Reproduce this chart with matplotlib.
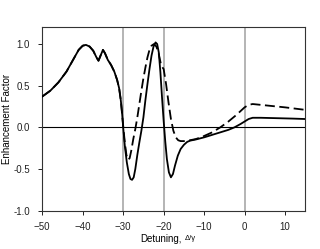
#!/usr/bin/env python
import matplotlib as mpl
mpl.use('agg')
import matplotlib.pyplot as plt

# Solid curve
SOLID_X = [-50, -48, -46, -44, -42.5, -41, -40, -39.2, -38.3, -37.4, -36.6, -36.1,
           -35.6, -35.0, -34.5, -33.8, -33.0, -32.2, -31.5, -31.0, -30.6, -30.3,
           -30.0, -29.6, -29.1, -28.6, -28.2, -27.8, -27.4, -27.0, -26.5, -26.0,
           -25.5, -25.0, -24.5, -24.0, -23.5, -23.0, -22.5, -22.0, -21.6, -21.2,
           -20.8, -20.4, -20.0, -19.6, -19.2, -18.7, -18.2, -17.7, -17.2, -16.5,
           -15.8, -15.0, -14.2, -13.5, -12, -10, -8, -6, -4, -2.5, -1, 0, 1, 2,
           4, 8, 12, 15]
SOLID_Y = [0.37, 0.44, 0.54, 0.67, 0.80, 0.93, 0.98, 0.99, 0.97, 0.92, 0.84, 0.80,
           0.86, 0.93, 0.89, 0.81, 0.75, 0.67, 0.57, 0.47, 0.33, 0.19,
           0.0, -0.22, -0.42, -0.56, -0.62, -0.63, -0.60, -0.50, -0.33, -0.18,
           -0.04, 0.12, 0.33, 0.52, 0.70, 0.86, 0.97, 1.02, 1.00, 0.90,
           0.66, 0.36, 0.08, -0.17, -0.38, -0.54, -0.60, -0.56, -0.46, -0.34,
           -0.26, -0.21, -0.175, -0.16, -0.145, -0.12, -0.09, -0.06, -0.03, 0.0,
           0.04, 0.07, 0.10, 0.115, 0.115, 0.11, 0.105, 0.10]

# Dashed curve (same as solid left of -30.6)
DASH_X = [-50, -48, -46, -44, -42.5, -41, -40, -39.2, -38.3, -37.4, -36.6, -36.1,
          -35.6, -35.0, -34.5, -33.8, -33.0, -32.2, -31.5, -31.0, -30.6,
          -30.0, -29.6, -29.2, -28.8, -28.4, -28.0, -27.5, -27.0, -26.5, -26.0,
          -25.5, -25.0, -24.5, -24.0, -23.5, -23.0, -22.4, -21.8, -21.2, -20.6,
          -20.0, -19.4, -18.8, -18.2, -17.6, -17.0, -16.4, -15.8, -15.0, -14.2,
          -13.5, -12, -10.3, -8, -6, -4, -2, 0, 1, 2, 3, 6, 10, 15]
DASH_Y = [0.37, 0.44, 0.54, 0.67, 0.80, 0.93, 0.98, 0.99, 0.97, 0.92, 0.84, 0.80,
          0.86, 0.93, 0.89, 0.81, 0.75, 0.67, 0.57, 0.47, 0.33,
          0.02, -0.18, -0.33, -0.39, -0.37, -0.28, -0.14, -0.02, 0.12, 0.28,
          0.44, 0.59, 0.72, 0.84, 0.93, 0.98, 1.00, 0.97, 0.88, 0.74,
          0.70, 0.52, 0.30, 0.10, -0.04, -0.12, -0.155, -0.165, -0.165, -0.16,
          -0.155, -0.14, -0.11, -0.06, 0.0, 0.07, 0.15, 0.24, 0.27, 0.28, 0.275,
          0.26, 0.24, 0.21]

VLINES = [-30, -20, 0]
XTICKS = [-50, -40, -30, -20, -10, 0, 10]
YTICKS = [-1.0, -0.5, 0.0, 0.5, 1.0]


def main():
    """Enhancement factor vs detuning"""
    plt.rcParams['font.family'] = ['Liberation Sans', 'DejaVu Sans']
    fig = plt.figure(figsize=(3.2, 2.49), dpi=100)
    axes = fig.add_axes([0.132, 0.154, 0.822, 0.736])

    for xval in VLINES:
        axes.axvline(xval, color='#b4b4b4', lw=1.4, zorder=1)
    axes.axhline(0, color='black', lw=0.8, zorder=2)

    axes.plot(SOLID_X, SOLID_Y, color='black', lw=1.3, zorder=3)
    axes.plot(DASH_X, DASH_Y, color='black', lw=1.3, dashes=(5.5, 2.5), zorder=3)

    axes.set_xlim(-50, 15)
    axes.set_ylim(-1.0, 1.2)
    axes.set_xticks(XTICKS)
    axes.set_yticks(YTICKS)
    axes.set_yticklabels(['{:.1f}'.format(v) for v in YTICKS])
    axes.tick_params(direction='out', length=3, width=0.7, labelsize=7,
                     colors='#222222')
    axes.tick_params(axis='y', pad=6)
    axes.tick_params(axis='x', pad=5)
    for spine in axes.spines.values():
        spine.set_linewidth(0.8)
        spine.set_color('#333333')

    fig.text(7 / 320, 1 - 119 / 249, 'Enhancement Factor', fontsize=7,
             rotation=90, ha='center', va='center')
    fig.text(182 / 320, 1 - 239 / 249, 'Detuning,', fontsize=7,
             ha='right', va='center')
    fig.text(190 / 320, 1 - 239 / 249, '\u0394/\u03b3', fontsize=5.5,
             ha='center', va='center')

    fig.savefig('out.png', dpi=100)


if __name__ == '__main__':
    main()
